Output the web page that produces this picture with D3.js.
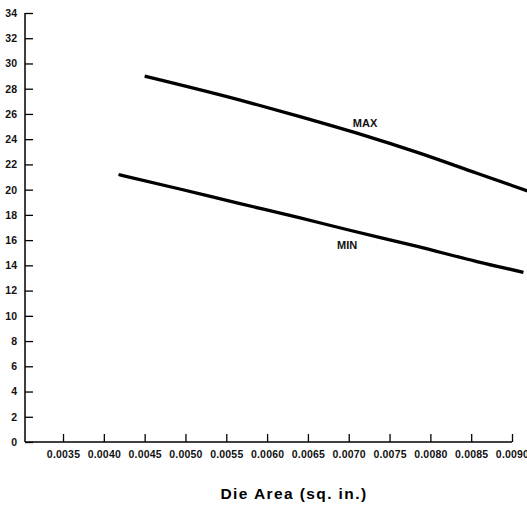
<!DOCTYPE html>
<html>
<head>
<meta charset="utf-8">
<script src="https://cdn.jsdelivr.net/npm/d3@7"></script>
<style>
  html, body { margin: 0; padding: 0; background: #fff; }
  svg { display: block; font-family: "Liberation Sans", Arial, Helvetica, sans-serif; }
</style>
</head>
<body>
<svg id="chart" width="527" height="507"></svg>
<script>
// ---- data ----
const xTicks = [0.0035, 0.0040, 0.0045, 0.0050, 0.0055, 0.0060, 0.0065, 0.0070, 0.0075, 0.0080, 0.0085, 0.0090];
const yTicks = [0, 2, 4, 6, 8, 10, 12, 14, 16, 18, 20, 22, 24, 26, 28, 30, 32, 34];
const maxX = [0.0045, 0.00567, 0.00637, 0.00714, 0.00784, 0.00857, 0.00919];
const maxY = [29.0, 27.1, 25.85, 24.4, 22.95, 21.3, 19.9];
const minX = [0.00418, 0.00493, 0.00563, 0.00638, 0.00700, 0.00784, 0.00857, 0.00914];
const minY = [21.2, 20.05, 18.95, 17.8, 16.8, 15.5, 14.3, 13.45];
const seriesLabels = [
  { text: "MAX", x: 0.00720, y: 24.95 },
  { text: "MIN", x: 0.00698, y: 15.3 }
];
const xTitle = "Die Area (sq. in.)";

// ---- layout ----
const svg = d3.select("#chart");
const x = d3.scaleLinear().domain([0.003, 0.009]).range([22.2, 512]);
const y = d3.scaleLinear().domain([0, 34]).range([442, 13]);
const axisLeftX = 25;

// y axis
const yAxis = d3.axisRight(y).tickValues(yTicks).tickSize(8).tickFormat(d3.format("d"));
const gy = svg.append("g").attr("transform", `translate(${axisLeftX},0)`).call(yAxis);
gy.select(".domain").remove();
gy.selectAll(".tick line").attr("stroke", "#000").attr("stroke-width", 1.3);
gy.selectAll(".tick text")
  .attr("x", -8).attr("text-anchor", "end")
  .attr("font-size", 10.5).attr("font-weight", "bold").attr("fill", "#111");
svg.append("line").attr("x1", axisLeftX).attr("x2", axisLeftX)
  .attr("y1", y(34)).attr("y2", y(0)).attr("stroke", "#000").attr("stroke-width", 1.5);

// x axis
const xAxis = d3.axisBottom(x).tickValues(xTicks).tickSize(-8).tickFormat(d3.format(".4f"));
const gx = svg.append("g").attr("transform", `translate(0,${y(0)})`).call(xAxis);
gx.select(".domain").remove();
gx.selectAll(".tick line").attr("stroke", "#000").attr("stroke-width", 1.3);
gx.selectAll(".tick text")
  .attr("y", 9).attr("dy", "0.71em")
  .attr("font-size", 10.5).attr("font-weight", "bold").attr("fill", "#111")
  .attr("letter-spacing", 0.2);
svg.append("line").attr("x1", axisLeftX).attr("x2", x(0.009))
  .attr("y1", y(0)).attr("y2", y(0)).attr("stroke", "#000").attr("stroke-width", 1.5);

// lines
const line = d3.line().x(d => x(d[0])).y(d => y(d[1])).curve(d3.curveMonotoneX);
const maxData = maxX.map((v, i) => [v, maxY[i]]);
const minData = minX.map((v, i) => [v, minY[i]]);
[maxData, minData].forEach(data => {
  svg.append("path").datum(data).attr("d", line)
    .attr("fill", "none").attr("stroke", "#000").attr("stroke-width", 3.3)
    .attr("stroke-linecap", "butt");
});

// series labels
svg.selectAll("text.series").data(seriesLabels).enter().append("text")
  .attr("class", "series")
  .attr("x", d => x(d.x)).attr("y", d => y(d.y))
  .attr("text-anchor", "middle")
  .attr("font-size", 11).attr("font-weight", "bold").attr("fill", "#111")
  .text(d => d.text);

// axis title
svg.append("text").attr("x", 294).attr("y", 499)
  .attr("text-anchor", "middle")
  .attr("font-size", 15.5).attr("font-weight", "bold").attr("fill", "#000")
  .attr("letter-spacing", 1.4)
  .text(xTitle);
</script>
</body>
</html>
